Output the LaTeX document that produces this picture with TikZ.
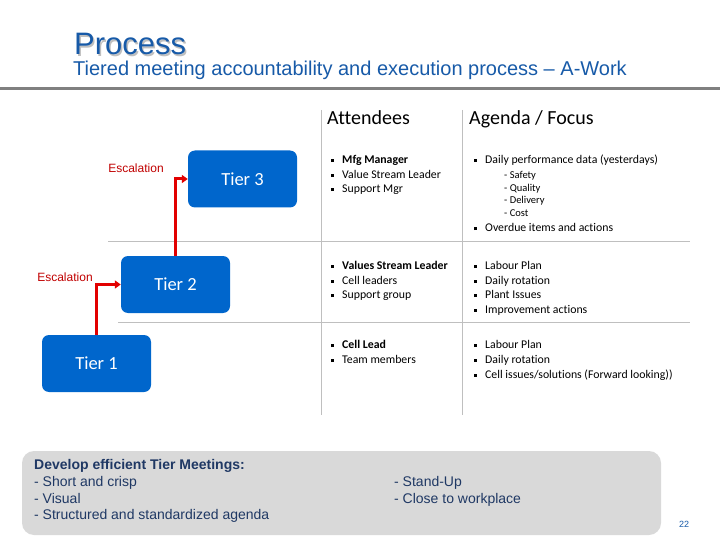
\documentclass[tikz,border=0pt]{standalone}
\usepackage{fontspec}
\setmainfont{Liberation Sans}
\newfontfamily\calib[Ligatures=NoCommon]{Carlito}
\usetikzlibrary{positioning}
\usetikzlibrary{arrows.meta}

\definecolor{titleblue}{RGB}{23,90,168}
\definecolor{tierblue}{RGB}{0,102,204}
\definecolor{navy}{RGB}{31,56,100}
\definecolor{escred}{RGB}{192,0,0}
\definecolor{arrred}{RGB}{226,0,0}
\definecolor{boxgray}{RGB}{217,217,217}
\definecolor{rulegray}{RGB}{191,191,191}

\newcommand{\bul}{\makebox[11pt][l]{\rule[1.6pt]{2.6pt}{2.6pt}}}

\begin{document}
\begin{tikzpicture}[x=1pt,y=-1pt,
  tier/.style={fill=tierblue, rounded corners=7pt, minimum width=109pt, minimum height=57pt, text=white, font=\calib\fontsize{18.5}{20}\selectfont},
  esc/.style={draw=arrred, line width=3pt, -{Triangle[length=6pt,width=8pt]}},
  esclabel/.style={text=escred, inner sep=0pt, font=\fontsize{12}{14}\selectfont},
  head/.style={anchor=mid west, inner sep=0pt, font=\calib\fontsize{20}{24}\selectfont},
  item/.style={anchor=mid west, inner sep=0pt, font=\calib\fontsize{11.8}{13}\selectfont},
  subitem/.style={anchor=mid west, inner sep=0pt, font=\calib\fontsize{10.5}{11}\selectfont},
  note/.style={anchor=mid west, inner sep=0pt, text=navy, font=\fontsize{14}{16}\selectfont}]
\useasboundingbox (0,0) rectangle (720,540);

\node[anchor=west, inner sep=0pt, text=black!25, font=\fontsize{31}{32}\selectfont] (titleshadow) at (75.5,45.5) {Process};
\node[anchor=west, inner sep=0pt, text=titleblue, font=\fontsize{31}{32}\selectfont] (title) at (74,44) {Process};
\node[anchor=mid west, inner sep=0pt, text=titleblue, font=\fontsize{20}{22}\selectfont] (subtitle) at (73,72.5) {Tiered meeting accountability and execution process -- A-Work};
\draw[line width=3pt, black!50] (0,89) -- (720,89);

\draw[rulegray] (321,110) -- (321,415);
\draw[rulegray] (462,110) -- (462,415);
\draw[rulegray] (108,241) -- (690,241);
\draw[rulegray] (118,322) -- (690,322);

\node[tier] (t3) at (242.5,179) {Tier 3};
\node[tier] (t2) at (175.5,284.5) {Tier 2};
\node[tier] (t1) at (96.5,363.5) {Tier 1};

\draw[esc] (t1.north) |- (t2.west);
\draw[esc] (t2.north) |- (t3.west);
\node[esclabel] (esc1) at (65,277) {Escalation};
\node[esclabel] (esc2) at (136,168) {Escalation};

\node[head] (attend) at (327,122) {Attendees};
\node[head] (agenda) at (469,122) {Agenda / Focus};

\node[item] (a31) at (331,161) {\bul\textbf{Mfg Manager}};
\node[item] (a32) at (331,175.5) {\bul Value Stream Leader};
\node[item] (a33) at (331,190) {\bul Support Mgr};

\node[item] (f31) at (474,161) {\bul Daily performance data (yesterdays)};
\node[subitem] (f32) at (504,176) {- Safety};
\node[subitem] (f33) at (504,188.5) {- Quality};
\node[subitem] (f34) at (504,201) {- Delivery};
\node[subitem] (f35) at (504,214) {- Cost};
\node[item] (f36) at (474,229) {\bul Overdue items and actions};

\node[item] (a21) at (331,267) {\bul\textbf{Values Stream Leader}};
\node[item] (a22) at (331,281.5) {\bul Cell leaders};
\node[item] (a23) at (331,296) {\bul Support group};

\node[item] (f21) at (474,267) {\bul Labour Plan};
\node[item] (f22) at (474,281.5) {\bul Daily rotation};
\node[item] (f23) at (474,296) {\bul Plant Issues};
\node[item] (f24) at (474,310.5) {\bul Improvement actions};

\node[item] (a11) at (331,346) {\bul\textbf{Cell Lead}};
\node[item] (a12) at (331,361) {\bul Team members};

\node[item] (f11) at (474,346) {\bul Labour Plan};
\node[item] (f12) at (474,361) {\bul Daily rotation};
\node[item] (f13) at (474,375.5) {\bul Cell issues/solutions (Forward looking))};

\fill[boxgray, rounded corners=12pt] (22,451) rectangle (661,535);
\node[note] (n1) at (34,467) {\textbf{Develop efficient Tier Meetings:}};
\node[note] (n2) at (34,484) {- Short and crisp};
\node[note] (n3) at (34,500.5) {- Visual};
\node[note] (n4) at (34,517) {- Structured and standardized agenda};
\node[note] (n5) at (394,484) {- Stand-Up};
\node[note] (n6) at (394,500.5) {- Close to workplace};

\node[inner sep=0pt, text=titleblue, font=\fontsize{9}{10}\selectfont] (page) at (684,524) {22};
\end{tikzpicture}
\end{document}
